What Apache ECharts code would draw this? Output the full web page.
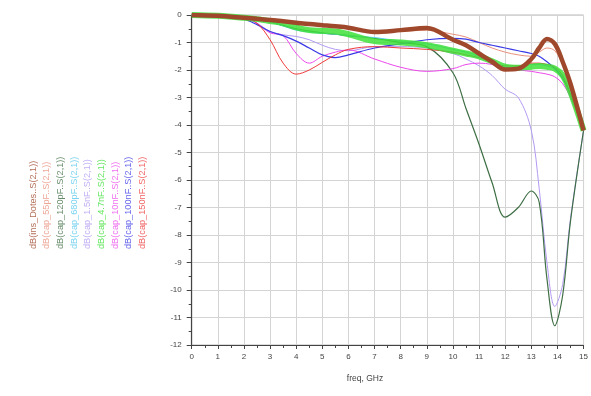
<!DOCTYPE html>
<html><head><meta charset="utf-8">
<script src="https://cdn.jsdelivr.net/npm/echarts@6/dist/echarts.min.js"></script>
<style>html,body{margin:0;padding:0;background:#fff}#c{width:591px;height:396px}</style>
</head><body><div id="c"></div>
<script>
const freq = [0,1,2,2.5,3,3.5,4,4.5,5,5.5,6,7,8,9,10,10.5,11,11.5,12,12.5,13,13.3,13.6,13.9,14.2,14.5,15];
const insDotes = [0,-0.03,-0.1,-0.14,-0.18,-0.23,-0.28,-0.33,-0.37,-0.41,-0.46,-0.62,-0.55,-0.47,-0.9,-1.1,-1.4,-1.7,-1.98,-1.95,-1.6,-1.2,-0.87,-1.05,-1.7,-2.5,-4.2];
const cap55pF = [0,-0.03,-0.1,-0.15,-0.2,-0.25,-0.3,-0.35,-0.4,-0.45,-0.5,-0.62,-0.6,-0.55,-0.7,-0.8,-1.0,-1.2,-1.35,-1.45,-1.5,-1.35,-1.2,-1.3,-1.8,-2.6,-4.2];
const cap120pF = [0,-0.03,-0.1,-0.15,-0.25,-0.38,-0.5,-0.58,-0.65,-0.7,-0.75,-0.85,-1.0,-1.15,-2.1,-3.4,-4.7,-6.1,-7.35,-7.0,-6.4,-6.8,-9.6,-11.3,-10.2,-7.5,-4.2];
const cap680pF = [0,-0.03,-0.1,-0.15,-0.25,-0.4,-0.55,-0.62,-0.67,-0.7,-0.75,-0.82,-0.95,-1.05,-1.25,-1.35,-1.5,-1.7,-1.9,-1.9,-1.8,-1.8,-1.85,-1.95,-2.2,-2.9,-4.2];
const cap1_5nF = [0,-0.03,-0.12,-0.3,-0.6,-0.72,-0.78,-0.9,-1.1,-1.25,-1.3,-1.15,-1.15,-1.2,-1.4,-1.6,-1.85,-2.2,-2.7,-3.0,-4.2,-6.3,-9.0,-10.6,-9.8,-7.4,-4.2];
const cap4_7nF = [0,-0.03,-0.1,-0.15,-0.22,-0.3,-0.45,-0.55,-0.58,-0.6,-0.7,-0.95,-1.0,-1.1,-1.3,-1.4,-1.5,-1.68,-1.88,-1.92,-1.88,-1.85,-1.88,-1.95,-2.2,-2.8,-4.2];
const cap10nF = [0,-0.02,-0.1,-0.3,-0.65,-0.75,-1.4,-1.75,-1.5,-1.35,-1.27,-1.6,-1.9,-2.05,-1.95,-1.8,-1.75,-1.8,-1.95,-2.0,-2.05,-2.1,-2.15,-2.25,-2.5,-3.0,-4.2];
const cap100nF = [0,-0.02,-0.15,-0.35,-0.6,-0.75,-0.95,-1.2,-1.45,-1.55,-1.45,-1.2,-1.05,-0.9,-0.85,-0.88,-1.0,-1.1,-1.2,-1.3,-1.4,-1.5,-1.7,-1.95,-2.3,-2.9,-4.2];
const cap150nF = [0,-0.02,-0.1,-0.3,-0.9,-1.75,-2.15,-2.0,-1.72,-1.45,-1.25,-1.15,-1.2,-1.25,-1.35,-1.45,-1.55,-1.7,-1.85,-1.85,-1.75,-1.75,-1.8,-1.9,-2.2,-2.9,-4.2];

const legendNames = ["dB(ins_Dotes..S(2,1))","dB(cap_55pF..S(2,1))","dB(cap_120pF..S(2,1))","dB(cap_680pF..S(2,1))","dB(cap_1.5nF..S(2,1))","dB(cap_4.7nF..S(2,1))","dB(cap_10nF..S(2,1))","dB(cap_100nF..S(2,1))","dB(cap_150nF..S(2,1))"];
const seriesValues = [insDotes,cap55pF,cap120pF,cap680pF,cap1_5nF,cap4_7nF,cap10nF,cap100nF,cap150nF];
const colors = ['#a0482c','#e8907c','#3e6e44','#58c8ee','#b29af2','#3ee03a','#ec48ec','#3a3ae6','#ee3a3a'];
const widths = [4.5,1,1.2,1,1,6,1,1.2,1];
const zs = [9,3,2,4,1,8,5,6,7];
const xTicks = [0,1,2,3,4,5,6,7,8,9,10,11,12,13,14,15];
const yTicks = [0,-1,-2,-3,-4,-5,-6,-7,-8,-9,-10,-11,-12];

const chart = echarts.init(document.getElementById('c'), null, {renderer:'canvas'});
const series = seriesValues.map((vals,i)=>({
  name: legendNames[i], type:'line', smooth:0.35, symbol:'none',
  z: zs[i],
  data: freq.map((f,k)=>[f, vals[k]]),
  lineStyle:{color:colors[i], width:widths[i], opacity: i===5?0.85:1},
  itemStyle:{color:colors[i]}
}));
const graphics = legendNames.map((n,i)=>({
  type:'text', x: 33 + i*13.7, y: 249, rotation: Math.PI/2,
  style:{text:n, fill:colors[i], font:'9.2px "Liberation Sans", Arial, sans-serif', textAlign:'left', textVerticalAlign:'middle', opacity:0.8}
}));
graphics.push({type:'text', x:365, y:379, style:{text:'freq, GHz', fill:'#444', font:'8.5px "Liberation Sans", Arial, sans-serif', textAlign:'center', textVerticalAlign:'middle'}});
chart.setOption({
  animation:false,
  grid:{left:191.7, right:5.3, top:15, bottom:51, show:true, borderColor:'#b8b8b8', borderWidth:1},
  xAxis:{type:'value', min:0, max:15, interval:1,
    axisLine:{show:true, onZero:false, lineStyle:{color:'#444', width:1.2}},
    axisTick:{show:true, length:4, lineStyle:{color:'#444'}},
    minorTick:{show:true, splitNumber:2, length:3, lineStyle:{color:'#444'}},
    axisLabel:{color:'#444', fontSize:8, margin:8, fontFamily:'Liberation Sans, Arial', formatter:v=>xTicks.includes(v)?String(v):''},
    splitLine:{show:true, lineStyle:{color:'#d4d4d4', width:1}}},
  yAxis:{type:'value', min:-12, max:0, interval:1,
    axisLine:{show:true, onZero:false, lineStyle:{color:'#444', width:1.2}},
    axisTick:{show:true, length:5, lineStyle:{color:'#444'}},
    minorTick:{show:true, splitNumber:2, length:3, lineStyle:{color:'#444'}},
    axisLabel:{color:'#444', fontSize:8, margin:10, fontFamily:'Liberation Sans, Arial', formatter:v=>yTicks.includes(v)?String(v):''},
    splitLine:{show:true, lineStyle:{color:'#d4d4d4', width:1}}},
  series: series,
  graphic: graphics
});
</script></body></html>
